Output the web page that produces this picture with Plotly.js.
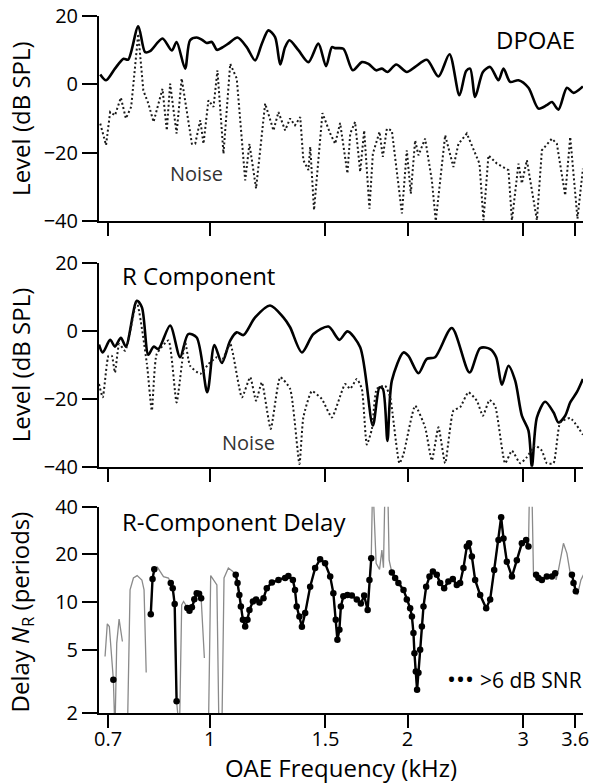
<!DOCTYPE html>
<html><head><meta charset="utf-8">
<script src="https://cdn.plot.ly/plotly-3.0.1.min.js"></script>
<style>html,body{margin:0;padding:0;background:#fff;} #chart{width:590px;height:784px;}</style>
</head><body><div id="chart"></div>
<script>
// ---------- Panel 1: DPOAE level and noise (dB SPL) ----------
const dpFreq = [0.681,0.695,0.717,0.739,0.751,0.778,0.797,0.811,0.847,0.875,0.890,0.917,0.933,0.955,0.972,0.989,1.007,1.025,1.043,1.067,1.102,1.138,1.172,1.200,1.228,1.257,1.280,1.302,1.322,1.364,1.413,1.463,1.503,1.534,1.552,1.597,1.651,1.704,1.744,1.792,1.828,1.864,1.922,1.995,2.054,2.140,2.229,2.317,2.399,2.456,2.491,2.535,2.605,2.672,2.751,2.800,2.866,2.951,3.056,3.165,3.259,3.318,3.395,3.497,3.579,3.699];
const dpLevel = [2.9,1.2,4.6,7.5,7.2,17.0,9.4,9.7,13.4,9.9,12.4,4.6,12.9,13.7,13.1,12.1,12.4,10.1,10.7,11.9,13.7,10.9,7.0,11.9,15.8,13.8,5.8,10.9,12.9,10.0,6.5,11.9,5.3,10.9,10.6,10.4,4.1,6.5,6.0,4.1,4.6,3.6,5.8,3.6,5.1,7.2,2.3,8.8,-3.2,3.9,4.6,-3.7,3.6,5.1,1.2,4.6,0.7,1.2,-1.0,-7.1,-6.1,-5.2,-7.4,-1.0,-2.5,-0.6];

const dpNoiseFreq = [0.681,0.695,0.705,0.717,0.732,0.745,0.759,0.778,0.792,0.806,0.821,0.847,0.860,0.870,0.890,0.906,0.939,0.950,0.967,0.978,0.995,1.013,1.027,1.049,1.074,1.099,1.132,1.149,1.176,1.214,1.250,1.272,1.302,1.325,1.348,1.373,1.388,1.413,1.422,1.441,1.484,1.525,1.552,1.579,1.620,1.636,1.664,1.694,1.718,1.750,1.771,1.813,1.834,1.860,1.893,1.961,1.995,2.023,2.054,2.078,2.127,2.178,2.208,2.282,2.349,2.391,2.462,2.535,2.574,2.610,2.656,2.736,2.849,2.884,2.951,2.986,3.039,3.148,3.203,3.318,3.376,3.476,3.538,3.629,3.699];
const dpNoiseLevel = [-11.5,-17.8,-8.1,-9.1,-3.9,-10.0,-6.6,14.8,-1.8,-5.6,-11.0,-1.3,-13.5,0.2,-14.4,1.7,-17.4,-17.4,-10.5,-17.4,-4.7,-6.6,4.1,-20.3,6.0,1.7,-28.1,-17.4,-30.5,-5.6,-13.5,-8.1,-13.5,-10.0,-12.0,-9.6,-22.2,-25.1,-18.3,-36.8,-8.4,-14.4,-17.4,-11.3,-26.1,-14.4,-11.0,-25.6,-13.5,-36.4,-20.3,-13.9,-21.2,-13.0,-13.5,-37.8,-19.3,-32.0,-16.4,-20.8,-15.9,-28.1,-40,-14.9,-24.2,-17.4,-14.4,-20.3,-23.2,-39.8,-20.8,-23.2,-25.1,-39.8,-23.2,-29.0,-22.2,-39.8,-19.3,-15.9,-17.4,-32.5,-15.4,-39.3,-24.7];

// ---------- Panel 2: R component level and noise (dB SPL) ----------
const rFreq = [0.678,0.687,0.705,0.717,0.732,0.745,0.774,0.788,0.806,0.821,0.835,0.870,0.901,0.927,0.955,0.991,1.016,1.043,1.074,1.099,1.125,1.172,1.235,1.294,1.325,1.381,1.438,1.516,1.575,1.620,1.694,1.771,1.813,1.834,1.864,1.893,1.972,2.006,2.078,2.140,2.203,2.336,2.485,2.580,2.672,2.729,2.784,2.849,2.917,2.986,3.056,3.093,3.148,3.240,3.336,3.395,3.476,3.538,3.621,3.699];
const rLevel = [-4.1,-6.4,-2.7,-4.7,-2.1,-4.7,8.8,6.9,-7.1,-4.7,-5.4,1.5,-7.8,-1.0,-2.0,-18.1,-4.2,-9.5,-2.9,-0.5,-1.3,3.9,7.4,3.9,1.0,-6.4,-1.0,1.2,-2.7,-0.2,-4.9,-27.9,-16.7,-17.1,-32.4,-14.7,-6.4,-7.4,-12.5,-8.3,-7.8,0.8,-12.3,-5.1,-5.4,-7.8,-15.9,-10.3,-14.7,-25.0,-29.4,-40,-25.5,-20.9,-24.0,-27.0,-25.0,-21.1,-18.1,-14.2];

const rNoiseFreq = [0.678,0.687,0.701,0.709,0.717,0.728,0.743,0.774,0.802,0.816,0.830,0.865,0.890,0.917,0.933,0.967,0.995,1.025,1.043,1.074,1.119,1.152,1.176,1.200,1.238,1.280,1.325,1.369,1.388,1.430,1.481,1.534,1.607,1.636,1.674,1.704,1.734,1.765,1.796,1.849,1.882,1.944,1.972,2.054,2.127,2.178,2.229,2.282,2.349,2.405,2.476,2.550,2.605,2.666,2.719,2.816,2.884,2.969,3.039,3.129,3.203,3.259,3.336,3.416,3.538,3.699];
const rNoiseLevel = [-15.7,-19.6,-7.4,-7.4,-12.3,-3.9,-5.9,8.3,-9.8,-23.5,-6.9,-2.9,-21.1,-3.4,-10.3,-12.7,-9.8,-7.8,-8.8,-3.9,-19.6,-13.7,-20.6,-15.2,-28.9,-13.7,-17.1,-39.2,-25.5,-17.8,-20.1,-25.5,-15.7,-17.1,-14.2,-17.1,-33.5,-28.9,-17.1,-16.2,-19.6,-39.0,-36.3,-22.1,-28.4,-38.2,-28.4,-39.0,-23.5,-22.5,-18.1,-20.6,-25.0,-20.4,-22.1,-39.0,-35.3,-39.0,-37.2,-33.8,-35.3,-39.0,-39.0,-27.0,-25.7,-30.6];

// ---------- Panel 3: R-component delay N_R (periods), in continuous segments ----------
const delayFreq1 = [0.6925,0.698,0.703,0.713,0.717,0.7215,0.7275,0.732,0.736];
const delayNR1   = [4.54,7.30,7.02,3.24,1.5,5.52,7.82,6.69,5.65];
const delayFreq2 = [0.749,0.756,0.765,0.775,0.788,0.794,0.800];
const delayNR2   = [1.5,11.95,14.2,14.7,13.8,11.95,3.6];
const delayFreq3 = [0.813,0.818,0.823,0.832,0.850,0.865,0.872,0.878,0.884,0.890,0.899,0.906,0.912,0.924,0.931,0.939,0.947,0.955,0.963,0.970,0.981];
const delayNR3   = [8.40,14.0,16.1,16.6,14.5,14.2,13.2,12.25,9.72,2.37,1.5,9.62,10.1,9.2,8.82,9.3,10.45,11.4,11.3,10.6,4.44];
const delayFreq4 = [
 0.995,1.003,1.013,1.025,1.0326,1.043,1.051,1.067,1.084,1.095,
 1.102,1.109,1.115,1.123,1.132,1.141,1.149,1.163,1.176,1.190,
 1.207,1.221,1.243,1.272,1.302,1.317,1.338,1.348,1.356,1.369,
 1.381,1.397,1.4215,1.4465,1.472,1.498,1.525,1.542,1.555,1.564,
 1.575,1.583,1.597,1.620,1.645,1.674,1.698,1.718,1.739,1.750,
 1.761,1.770,1.785,1.7915,1.813,1.828,1.838,1.849,1.865,1.875,
 1.893,1.915,1.937,1.972,1.995,2.0185,2.031,2.042,2.049,2.059,
 2.068,2.078,2.0906,2.103,2.115,2.135,2.160,2.186,2.216,2.2425,
 2.274,2.308,2.344,2.377,2.405,2.433,2.462,2.482,2.506,2.535,
 2.580,2.635,2.672,2.710,2.751,2.777,2.800,2.833,2.884,2.934,
 2.986,3.031,3.056,3.069,3.091,3.110,3.139,3.165,3.203,3.259,
 3.318,3.356,3.367,3.395,3.455,3.497,3.538,3.559,3.579,3.608,
 3.629,3.673,3.706];
const delayNR4 = [
 1.5,14.7,13.8,12.85,1.5,1.5,14.2,16.4,15.6,14.9,
 13.2,11.1,9.38,7.74,7.02,7.74,8.94,10.1,10.4,9.94,
 10.6,12.25,13.3,13.8,14.2,14.6,13.8,11.95,9.38,8.12,
 7.0,8.53,12.5,16.4,18.65,17.6,14.5,11.4,7.74,5.79,
 6.69,9.38,10.9,11.1,11.0,10.4,9.8,11.0,8.94,13.8,
 18.9,60,22,17.6,16.1,21.3,16.5,60,60,18.4,
 15.4,14.2,13.2,11.95,10.4,9.17,8.12,6.38,4.77,3.66,
 2.80,3.59,5.01,7.02,9.38,12.5,14.5,15.6,14.9,13.2,
 12.25,13.5,14.0,12.85,13.2,16.4,22.4,23.5,19.4,13.8,
 11.1,9.17,10.4,15.98,24.7,34.3,25.2,18.0,14.5,18.4,
 23.5,24.7,22.4,60,60,15.2,14.9,14.2,13.8,14.5,
 14.5,15.2,13.8,16.0,23.5,20.3,15.2,14.9,13.2,11.7,
 11.1,13.8,14.9];
// frequency bands (kHz) where the R component exceeds the noise by >6 dB
const snrBandLow  = [0.712,0.812,0.871,0.923,1.094,1.892,3.138,3.558];
const snrBandHigh = [0.714,0.824,0.891,0.971,1.762,3.057,3.357,3.609];

// ---------- axis ticks ----------
const freqTicks = [0.7,1,1.5,2,3,3.6];
const freqTickText = ['0.7','1','1.5','2','3','3.6'];
const levelTicks = [-40,-20,0,20];
const delayTicks = [2,5,10,20,40];
const delayTickText = ['2','5','10','20','40'];

// ---------- build panel-3 traces ----------
const segF = [delayFreq1,delayFreq2,delayFreq3,delayFreq4];
const segN = [delayNR1,delayNR2,delayNR3,delayNR4];
const grayX = [], grayY = [], dotX = [], dotY = [];
function bandOf(f){ for(let i=0;i<snrBandLow.length;i++){ if(f>=snrBandLow[i] && f<=snrBandHigh[i]) return i; } return -1; }
let lastBand = -1;
segF.forEach((fs,si)=>{
  if(si>0){ grayX.push(null); grayY.push(null); }
  fs.forEach((f,i)=>{
    const v = segN[si][i];
    grayX.push(f); grayY.push(v);
    const b = bandOf(f);
    if(b>=0){
      if(b!==lastBand && dotX.length){ dotX.push(null); dotY.push(null); }
      dotX.push(f); dotY.push(v);
    }
    lastBand = b;
  });
  lastBand = -1;
});

const FONT = '"Open Sans", "DejaVu Sans", sans-serif';
const xRange = [Math.log10(0.678), Math.log10(3.70)];

const traces = [
  {x:dpFreq, y:dpLevel, xaxis:'x', yaxis:'y', mode:'lines', line:{color:'#000', width:2.6, shape:'spline', smoothing:0.8}, hoverinfo:'skip'},
  {x:dpNoiseFreq, y:dpNoiseLevel, xaxis:'x', yaxis:'y', mode:'lines', line:{color:'#1a1a1a', width:2, dash:'2px,2.5px'}, hoverinfo:'skip'},
  {x:rFreq, y:rLevel, xaxis:'x2', yaxis:'y2', mode:'lines', line:{color:'#000', width:2.6, shape:'spline', smoothing:0.8}, hoverinfo:'skip'},
  {x:rNoiseFreq, y:rNoiseLevel, xaxis:'x2', yaxis:'y2', mode:'lines', line:{color:'#1a1a1a', width:2, dash:'2px,2.5px', shape:'spline', smoothing:0.5}, hoverinfo:'skip'},
  {x:grayX, y:grayY, xaxis:'x3', yaxis:'y3', mode:'lines', connectgaps:false, line:{color:'#8a8a8a', width:1.3}, hoverinfo:'skip'},
  {x:dotX, y:dotY, xaxis:'x3', yaxis:'y3', mode:'lines+markers', connectgaps:false, line:{color:'#000', width:2.4}, marker:{color:'#000', size:6.5}, hoverinfo:'skip'}
];

function xAxis(anchor, labels){
  return {type:'log', range:xRange, domain:[0,1], anchor:anchor,
    tickmode:'array', tickvals:freqTicks, ticktext:freqTickText, showticklabels:labels,
    ticks:'outside', ticklen:13, tickwidth:2, tickcolor:'#000',
    showline:true, linecolor:'#000', linewidth:2, showgrid:false, zeroline:false,
    tickfont:{family:FONT, size:20, color:'#000'}};
}
function yLevel(domain, anchor){
  return {domain:domain, anchor:anchor, range:[-40,20], tickmode:'array', tickvals:levelTicks,
    ticks:'outside', ticklen:15, tickwidth:2, tickcolor:'#000',
    showline:true, linecolor:'#000', linewidth:2, showgrid:false, zeroline:false,
    tickfont:{family:FONT, size:20, color:'#000'}};
}

const xa3 = xAxis('y3', true);
xa3.ticklabelstandoff = -6;
xa3.title = {text:'OAE Frequency (kHz)', font:{family:FONT, size:24, color:'#000'}, standoff:19};

const ann = (text, x, y, xanchor, size, extra) => Object.assign({text, x, y, xref:'paper', yref:'paper', xanchor, yanchor:'middle', showarrow:false, font:{family:FONT, size, color:'#000'}}, extra||{});

const layout = {
  width:590, height:784,
  margin:{l:99, r:7, t:16, b:71},
  paper_bgcolor:'#fff', plot_bgcolor:'#fff', showlegend:false,
  font:{family:FONT, size:20, color:'#000'},
  xaxis: xAxis('y', false),
  xaxis2: xAxis('y2', false),
  xaxis3: xa3,
  yaxis: yLevel([0.7059,1], 'x'),
  yaxis2: yLevel([0.3534,0.6461], 'x2'),
  yaxis3: {domain:[0,0.2960], anchor:'x3', type:'log', range:[Math.log10(2), Math.log10(40)],
    tickmode:'array', tickvals:delayTicks, ticktext:delayTickText,
    ticks:'outside', ticklen:15, tickwidth:2, tickcolor:'#000',
    showline:true, linecolor:'#000', linewidth:2, showgrid:false, zeroline:false,
    tickfont:{family:FONT, size:20, color:'#000'}},
  annotations: [
    ann('Level (dB SPL)', -0.1622, 0.8531, 'center', 24, {textangle:-90}),
    ann('Level (dB SPL)', -0.1622, 0.4997, 'center', 24, {textangle:-90}),
    ann('Delay <i>N</i><sub>R</sub> (periods)', -0.1622, 0.145, 'center', 24, {textangle:-90}),
    ann('DPOAE', 0.9876, 0.9656, 'right', 24),
    ann('R Component', 0.0434, 0.6275, 'left', 24),
    ann('R-Component Delay', 0.0434, 0.2746, 'left', 24),
    ann('Noise', 0.2019, 0.7735, 'center', 20, {font:{family:FONT, size:20, color:'#333'}}),
    ann('Noise', 0.3097, 0.3874, 'center', 20, {font:{family:FONT, size:20, color:'#333'}}),
    ann('\u2022\u2022\u2022', 0.7459, 0.0490, 'center', 24),
    ann('&gt;6 dB SNR', 0.7831, 0.0468, 'left', 21)
  ]
};

Plotly.newPlot('chart', traces, layout, {staticPlot:true, displayModeBar:false});
</script></body></html>
